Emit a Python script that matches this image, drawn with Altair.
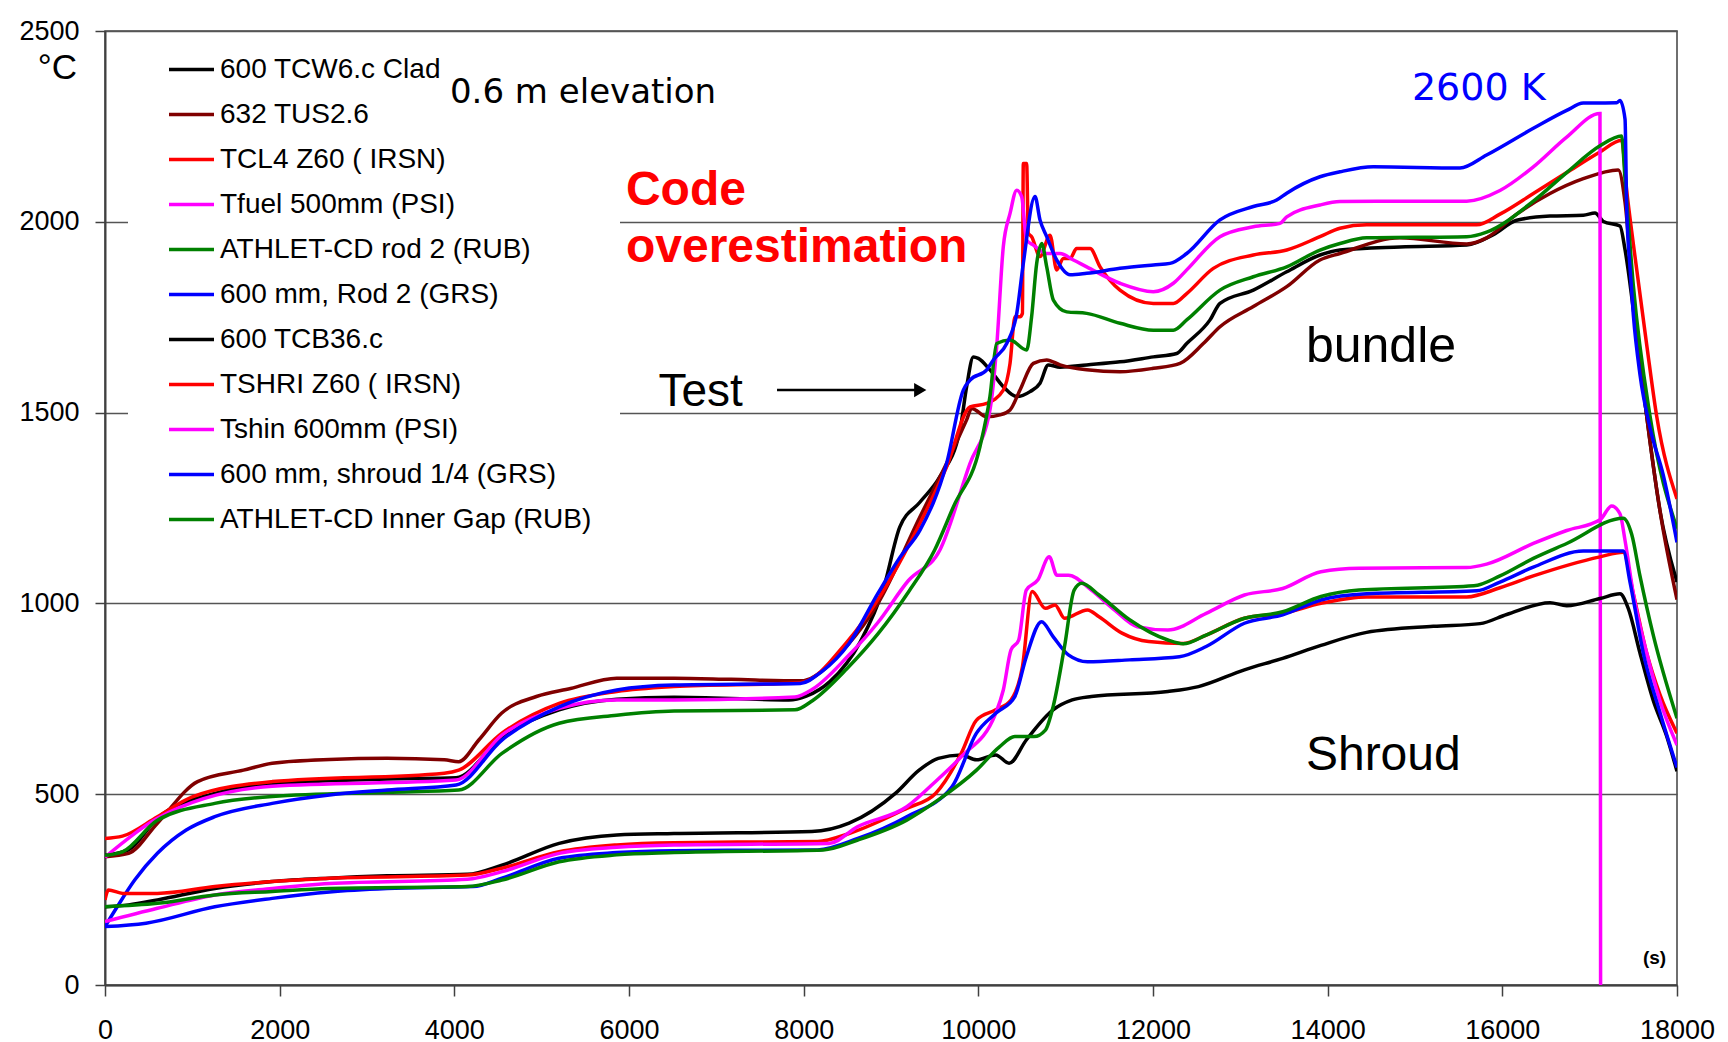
import altair as alt
import pandas as pd

# ---------------- data ----------------
series_names = [
    "600 TCW6.c Clad", "632 TUS2.6", "TCL4 Z60 ( IRSN)", "Tfuel 500mm (PSI)",
    "ATHLET-CD rod 2 (RUB)", " 600 mm, Rod 2 (GRS)", "600 TCB36.c",
    "TSHRI Z60 ( IRSN)", "Tshin 600mm (PSI)", " 600 mm, shroud 1/4 (GRS)",
    "ATHLET-CD Inner Gap (RUB)",
]
series_colors = ["#000000", "#800000", "#FF0000", "#FF00FF", "#008000", "#0000FF",
                 "#000000", "#FF0000", "#FF00FF", "#0000FF", "#008000"]
series_widths = [3.5, 3.5, 2.2, 2.2, 2.2, 2.2, 3.5, 2.2, 2.2, 2.2, 2.2]

# bundle: 600 TCW6.c Clad
tcw6_t = [0, 270, 600, 1257, 1915, 2570, 3230, 4020, 4545, 5200, 5860, 6515, 7830, 8030, 8300,
          8650, 8920, 9100, 9330, 9560, 9790, 9866, 9943, 10000, 10133, 10286, 10440, 10592,
          10706, 10801, 10935, 11241, 11622, 12004, 12271, 12386, 12653, 12767, 13149, 13531,
          13912, 14141, 14828, 15592, 15897, 16164, 16546, 16927, 17061, 17157, 17347, 17405,
          17500, 17653, 17805, 18000]
tcw6_T = [340, 354, 437, 502, 528, 535, 540, 543, 651, 721, 749, 754, 747, 757, 795,
          900, 1044, 1200, 1265, 1332, 1454, 1568, 1646, 1642, 1612, 1568, 1542, 1555,
          1577, 1625, 1619, 1625, 1633, 1646, 1655, 1681, 1743, 1786, 1821, 1869,
          1913, 1926, 1934, 1939, 1966, 2004, 2015, 2017, 2023, 2001, 1989, 1927,
          1771, 1491, 1243, 1056]

# bundle: 632 TUS2.6
tus_t = [0, 270, 600, 1060, 1585, 1915, 2570, 3230, 3885, 4050, 4280, 4540, 4940, 5330, 5860,
         6515, 7170, 7960, 8500, 8850, 9332, 9637, 9866, 9924, 10096, 10248, 10363, 10477,
         10630, 10783, 10935, 11241, 11622, 12004, 12309, 12576, 12767, 13149, 13531, 13912,
         14141, 14828, 15592, 15820, 16164, 16546, 16927, 17328, 17405, 17500, 17653, 17805,
         18000]
tus_T = [336, 345, 424, 533, 563, 581, 591, 594, 590, 585, 642, 712, 756, 777, 804,
         804, 801, 797, 890, 1000, 1227, 1367, 1481, 1511, 1489, 1494, 1507, 1559,
         1629, 1638, 1625, 1612, 1607, 1616, 1629, 1681, 1725, 1778, 1830, 1900,
         1917, 1958, 1942, 1958, 2020, 2074, 2113, 2136, 2051, 1802, 1491, 1243,
         1010]

# bundle: TCL4 Z60 (IRSN)
tcl4_t = [0, 200, 600, 1000, 1915, 3885, 4050, 4545, 5200, 5860, 6515, 7960, 8500, 8850, 9332,
          9637, 9905, 10096, 10286, 10363, 10420, 10477, 10505, 10515, 10553, 10572, 10610,
          10706, 10821, 10897, 10973, 11050, 11126, 11279, 11394, 11622, 12004, 12233, 12386,
          12691, 13149, 13531, 13912, 14141, 14446, 15706, 15973, 16355, 16737, 17118, 17366,
          17424, 17500, 17653, 17767, 18000]
tcl4_T = [384, 390, 441, 493, 533, 555, 563, 660, 738, 769, 782, 792, 900, 1010, 1210,
          1358, 1515, 1524, 1559, 1629, 1751, 1751, 1760, 2153, 2153, 1970, 1961,
          1909, 1965, 1874, 1904, 1904, 1930, 1930, 1882, 1821, 1786, 1786, 1812,
          1878, 1913, 1926, 1961, 1983, 1992, 1992, 2020, 2074, 2129, 2183, 2214,
          2082, 1942, 1678, 1491, 1274]

# bundle: Tfuel 500mm (PSI)
tfuel_t = [0, 600, 1915, 4020, 4545, 5200, 5860, 6515, 7900, 8100, 8500, 8850, 9200, 9560,
           9905, 10133, 10210, 10286, 10363, 10440, 10496, 10553, 10630, 10783, 10935, 11088,
           11241, 11622, 12004, 12233, 12386, 12767, 13149, 13454, 13531, 13912, 14141, 14828,
           15592, 15973, 16355, 16737, 17118, 17125]
tfuel_T = [335, 437, 521, 537, 655, 725, 747, 747, 755, 775, 860, 950, 1060, 1140,
           1367, 1507, 1673, 1935, 2022, 2083, 2066, 1952, 1939, 1917, 1917, 1900,
           1882, 1839, 1817, 1839, 1874, 1961, 1987, 1996, 2013, 2044, 2053, 2054,
           2054, 2082, 2144, 2222, 2284, 0]

# bundle: ATHLET-CD rod 2 (RUB)
athrod_t = [0, 200, 600, 1257, 1915, 3230, 4050, 4545, 5200, 5860, 6515, 7900, 8100, 8500,
            8850, 9200, 9500, 9714, 10019, 10133, 10210, 10363, 10553, 10610, 10668, 10725,
            10783, 10859, 11012, 11241, 11622, 12004, 12233, 12386, 12767, 13149, 13531,
            13912, 14141, 14446, 15592, 15820, 16355, 16737, 17118, 17366, 17405, 17500,
            17691, 18000]
athrod_T = [340, 349, 432, 476, 494, 505, 511, 607, 686, 707, 718, 721, 745, 830,
            920, 1030, 1140, 1253, 1411, 1542, 1681, 1690, 1664, 1751, 1891, 1943,
            1882, 1795, 1764, 1760, 1734, 1716, 1716, 1743, 1821, 1856, 1882,
            1926, 1943, 1958, 1961, 1973, 2054, 2129, 2199, 2225, 2113, 1833,
            1491, 1196]

# bundle: 600 mm, Rod 2 (GRS)
grsrod_t = [0, 140, 340, 600, 930, 1257, 1915, 2570, 3230, 4020, 4545, 5200, 5860, 6515,
            7960, 8200, 8520, 8850, 9100, 9332, 9637, 9828, 9905, 10096, 10172, 10325, 10440,
            10515, 10649, 10706, 10783, 10897, 11050, 11241, 11622, 12004, 12195, 12386,
            12767, 13149, 13416, 13531, 13912, 14141, 14523, 15515, 15820, 16355, 16737,
            16927, 17309, 17347, 17405, 17424, 17462, 17500, 17576, 17691, 17843, 18000]
grsrod_T = [153, 205, 275, 345, 406, 441, 476, 498, 511, 524, 642, 729, 773, 786,
            790, 820, 895, 1026, 1120, 1192, 1367, 1559, 1585, 1612, 1638, 1681, 1760,
            1891, 2066, 2005, 1961, 1900, 1861, 1865, 1878, 1887, 1891, 1917,
            2005, 2040, 2057, 2075, 2118, 2131, 2144, 2141, 2175, 2245, 2292,
            2311, 2312, 2318, 2269, 2035, 1880, 1756, 1600, 1460, 1336, 1160]

# shroud: 600 TCB36.c
tcb_t = [0, 270, 600, 1257, 1915, 2570, 3230, 4150, 4545, 5200, 5860, 6515, 8093, 8520, 9050,
         9322, 9541, 9804, 9979, 10199, 10352, 10549, 10856, 11075, 11294, 12170, 12521,
         13047, 13485, 13923, 14446, 15210, 15744, 16050, 16546, 16737, 17118, 17347, 17443,
         17576, 17729, 17882, 18000]
tcb_T = [205, 210, 223, 253, 271, 280, 286, 290, 314, 371, 393, 397, 402, 424, 502,
         563, 594, 603, 590, 603, 581, 642, 721, 747, 756, 769, 782,
         826, 856, 890, 924, 940, 947, 971, 1002, 994, 1013, 1025, 986,
         870, 745, 652, 560]

# shroud: TSHRI Z60 (IRSN)
tshri_t = [0, 40, 205, 600, 1257, 1915, 2570, 4150, 4545, 5200, 5860, 6515, 8160, 8520, 9180,
           9510, 9804, 9979, 10199, 10374, 10505, 10615, 10768, 10878, 10987, 11250, 11382,
           11645, 11951, 12346, 12609, 13047, 13485, 13923, 14446, 15592, 15973, 16355,
           17118, 17385, 17500, 17653, 17805, 18000]
tshri_T = [223, 249, 240, 240, 258, 271, 280, 288, 306, 349, 367, 373, 376, 397, 463,
           502, 607, 694, 721, 747, 834, 1031, 987, 996, 961, 983, 965,
           922, 900, 895, 917, 961, 974, 1000, 1017, 1017, 1041, 1072,
           1122, 1134, 1025, 870, 761, 660]

# shroud: Tshin 600mm (PSI)
tshin_t = [0, 600, 1257, 1915, 2570, 4150, 4545, 5200, 5860, 6515, 8290, 8620, 9180, 9541,
           9804, 10199, 10286, 10374, 10462, 10549, 10680, 10812, 10900, 11031, 11294, 11557,
           11820, 12170, 12609, 13047, 13485, 13923, 14361, 15592, 15820, 16355, 16737,
           17118, 17252, 17347, 17405, 17500, 17653, 17805, 18000]
tshin_T = [166, 201, 236, 253, 266, 277, 297, 345, 361, 367, 371, 415, 467, 540,
           598, 712, 773, 878, 904, 1035, 1061, 1122, 1074, 1074, 1035, 983,
           939, 930, 974, 1022, 1039, 1083, 1092, 1094, 1103, 1157, 1191,
           1219, 1255, 1235, 1165, 1025, 870, 745, 629]

# shroud: 600 mm, shroud 1/4 (GRS)
grssh_t = [0, 470, 1257, 1915, 2570, 3230, 4215, 4545, 5200, 5860, 6515, 8160, 8620, 9180,
           9700, 9979, 10199, 10418, 10549, 10724, 10856, 11031, 11250, 11732, 12302, 12609,
           13047, 13485, 13923, 14446, 15706, 15973, 16355, 16927, 17385, 17462, 17614, 17805,
           18000]
grssh_T = [153, 162, 205, 227, 244, 253, 258, 280, 332, 347, 352, 354, 384, 441,
           520, 660, 712, 756, 860, 952, 913, 865, 847, 852, 860, 887,
           948, 970, 1009, 1025, 1033, 1056, 1095, 1137, 1137, 1056, 870, 714,
           570]

# shroud: ATHLET-CD Inner Gap (RUB)
athgap_t = [0, 600, 1257, 1915, 2570, 4150, 4545, 5200, 5860, 6515, 8225, 8620, 9180, 9541,
            9979, 10242, 10418, 10637, 10768, 10856, 10987, 11097, 11184, 11382, 11732, 12170,
            12346, 12609, 13047, 13485, 13923, 14361, 15675, 15973, 16355, 16737, 17385, 17481,
            17576, 17729, 18000]
athgap_T = [205, 214, 236, 245, 253, 258, 275, 323, 341, 347, 354, 380, 432, 485,
            563, 624, 651, 651, 668, 729, 887, 1035, 1053, 1022, 957, 904,
            894, 917, 961, 978, 1018, 1035, 1046, 1072, 1118, 1157, 1223, 1181,
            1072, 916, 699]

series_t = [tcw6_t, tus_t, tcl4_t, tfuel_t, athrod_t, grsrod_t,
            tcb_t, tshri_t, tshin_t, grssh_t, athgap_t]
series_T = [tcw6_T, tus_T, tcl4_T, tfuel_T, athrod_T, grsrod_T,
            tcb_T, tshri_T, tshin_T, grssh_T, athgap_T]

x_ticks = list(range(0, 18001, 2000))
y_ticks = [0, 500, 1000, 1500, 2000, 2500]

# annotations (data coordinates)
note_text = ["0.6 m elevation", "Code", "overestimation", "Test", "bundle", "Shroud", "2600 K"]
note_t = [3950, 5965, 5965, 6338, 13751, 13751, 14965]
note_T = [2311, 2044, 1895, 1517, 1633, 563, 2319]
arrow_t = [7695, 9300]
arrow_head_t = [9335]
arrow_T = [1559]

# ---------------- build tables ----------------
rows = []
for name, ts, Ts in zip(series_names, series_t, series_T):
    for i, (t, T) in enumerate(zip(ts, Ts)):
        rows.append({"series": name, "t": t, "T": T, "i": i})
df = pd.DataFrame(rows)

notes = pd.DataFrame({"text": note_text, "t": note_t, "T": note_T})

x_scale = alt.Scale(domain=[0, 18000], nice=False, zero=False)
y_scale = alt.Scale(domain=[0, 2500], nice=False, zero=True)

x_axis = alt.Axis(values=x_ticks, grid=False, title="(s)", titleX=1549, titleY=-22,
                  titleAlign="center", titleBaseline="alphabetic", titleFontSize=19,
                  titleFontWeight="bold", titleFont="Liberation Sans", titleColor="#000000",
                  labelFont="Liberation Sans", labelFontSize=27, labelColor="#000000",
                  labelPadding=21, tickSize=11, tickColor="#404040", tickWidth=1.5,
                  domainColor="#404040", domainWidth=2, labelFlush=False, labelOverlap=False,
                  format="d")
y_axis = alt.Axis(values=y_ticks, grid=True, gridColor="#555555", gridWidth=1.5,
                  title="°C", titleAngle=0, titleX=-48, titleY=47, titleAlign="center",
                  titleBaseline="alphabetic", titleFont="Liberation Sans", titleFontSize=35,
                  titleFontWeight="normal", titleColor="#000000",
                  labelFont="Liberation Sans", labelFontSize=27, labelColor="#000000",
                  labelPadding=16, tickSize=10, tickColor="#404040", tickWidth=1.5,
                  domainColor="#404040", domainWidth=2, labelOverlap=False, format="d")

legend = alt.Legend(title=None, orient="none", legendX=23, legendY=4,
                    symbolType="stroke", symbolSize=2025, symbolOffset=29,
                    labelFont="Liberation Sans", labelFontSize=28, labelColor="#000000",
                    labelLimit=0, padding=10, rowPadding=6, labelOffset=4)

# white box behind the legend (hides the grid lines there, as in the reference)
legend_box = alt.Chart(pd.DataFrame({"k": [0]})).mark_rect(color="#FFFFFF").encode(
    x=alt.value(23), x2=alt.value(515), y=alt.value(6), y2=alt.value(520))

lines = alt.Chart(df).mark_line(clip=True, interpolate="monotone").encode(
    x=alt.X("t:Q", scale=x_scale, axis=x_axis),
    y=alt.Y("T:Q", scale=y_scale, axis=y_axis),
    color=alt.Color("series:N", scale=alt.Scale(domain=series_names, range=series_colors),
                    legend=legend),
    strokeWidth=alt.StrokeWidth("series:N",
                                scale=alt.Scale(domain=series_names, range=series_widths),
                                legend=legend),
    order=alt.Order("i:Q"),
)


def note_layer(idx, font, size, color, weight="normal"):
    d = notes.iloc[idx]
    return alt.Chart(d).mark_text(font=font, fontSize=size, color=color, fontWeight=weight,
                                  align="left", baseline="alphabetic").encode(
        x=alt.X("t:Q", scale=x_scale), y=alt.Y("T:Q", scale=y_scale), text="text:N")


elev = note_layer([0], "DejaVu Sans", 34, "#000000")
code = note_layer([1, 2], "Liberation Sans", 48, "#FF0000", "bold")
test = note_layer([3], "Liberation Sans", 46, "#000000")
bundle = note_layer([4], "Liberation Sans", 50, "#000000")
shroud = note_layer([5], "Liberation Sans", 48, "#000000")
k2600 = note_layer([6], "DejaVu Sans", 38, "#0000FF")

arrow_df = pd.DataFrame({"t": [arrow_t[0]], "t2": [arrow_t[1]], "T": arrow_T})
arrow = alt.Chart(arrow_df).mark_rule(color="#000000", strokeWidth=2.5).encode(
    x=alt.X("t:Q", scale=x_scale), x2="t2:Q", y=alt.Y("T:Q", scale=y_scale))
head_df = pd.DataFrame({"t": arrow_head_t, "T": arrow_T})
head = alt.Chart(head_df).mark_point(shape="triangle-right", filled=True, size=200,
                                     color="#000000", opacity=1).encode(
    x=alt.X("t:Q", scale=x_scale), y=alt.Y("T:Q", scale=y_scale))

chart = alt.layer(legend_box, lines, elev, code, test, bundle, shroud, k2600, arrow,
                  head).properties(
    width=1572, height=954,
    autosize=alt.AutoSizeParams(type="none"),
    padding={"left": 97, "top": 23, "right": 40, "bottom": 60},
    background="#FFFFFF",
).configure_view(stroke="#404040", strokeWidth=1.5, fill="#FFFFFF")

chart.save("out.html", embed_options={"renderer": "svg", "actions": False})
